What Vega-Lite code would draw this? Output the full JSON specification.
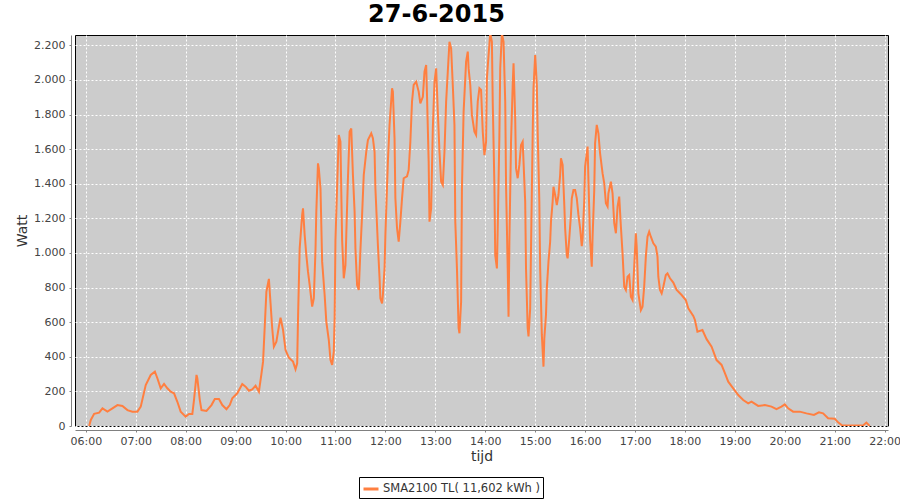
{
  "$schema": "https://vega.github.io/schema/vega-lite/v6.json",
  "width": 813,
  "height": 391,
  "autosize": "none",
  "padding": {"left": 75, "top": 35, "right": 12, "bottom": 74},
  "background": "white",
  "title": {"text": "27-6-2015", "font": "DejaVu Sans", "fontSize": 24, "fontWeight": "bold", "color": "black", "anchor": "middle", "frame": "group", "offset": 8, "dx": -45},
  "data": {
    "format": {"parse": {"t": "utc:'%H:%M'"}},
    "values": [
      {"t":"06:04","w":0},{"t":"06:06","w":35},{"t":"06:10","w":70},{"t":"06:16","w":77},{"t":"06:20","w":102},{"t":"06:26","w":83},{"t":"06:32","w":102},{"t":"06:38","w":121},{"t":"06:44","w":116},{"t":"06:50","w":92},{"t":"06:56","w":83},{"t":"07:02","w":83},{"t":"07:06","w":112},{"t":"07:12","w":237},{"t":"07:18","w":295},{"t":"07:23","w":314},{"t":"07:26","w":276},{"t":"07:30","w":218},{"t":"07:34","w":243},{"t":"07:38","w":218},{"t":"07:42","w":198},{"t":"07:46","w":189},{"t":"07:50","w":140},{"t":"07:54","w":83},{"t":"08:00","w":54},{"t":"08:04","w":69},{"t":"08:08","w":69},{"t":"08:10","w":150},{"t":"08:13","w":295},{"t":"08:14","w":276},{"t":"08:17","w":150},{"t":"08:19","w":92},{"t":"08:25","w":87},{"t":"08:31","w":121},{"t":"08:35","w":156},{"t":"08:40","w":156},{"t":"08:44","w":121},{"t":"08:49","w":97},{"t":"08:53","w":121},{"t":"08:56","w":160},{"t":"09:02","w":189},{"t":"09:08","w":243},{"t":"09:12","w":227},{"t":"09:16","w":204},{"t":"09:20","w":212},{"t":"09:24","w":233},{"t":"09:28","w":198},{"t":"09:31","w":300},{"t":"09:33","w":372},{"t":"09:35","w":574},{"t":"09:37","w":776},{"t":"09:40","w":850},{"t":"09:42","w":709},{"t":"09:44","w":565},{"t":"09:46","w":458},{"t":"09:49","w":487},{"t":"09:52","w":574},{"t":"09:54","w":626},{"t":"09:57","w":555},{"t":"10:00","w":439},{"t":"10:04","w":395},{"t":"10:09","w":372},{"t":"10:12","w":328},{"t":"10:14","w":362},{"t":"10:15","w":622},{"t":"10:17","w":1027},{"t":"10:20","w":1220},{"t":"10:21","w":1258},{"t":"10:23","w":1104},{"t":"10:25","w":988},{"t":"10:27","w":892},{"t":"10:29","w":815},{"t":"10:32","w":690},{"t":"10:34","w":738},{"t":"10:36","w":1017},{"t":"10:37","w":1239},{"t":"10:39","w":1518},{"t":"10:40","w":1489},{"t":"10:42","w":1374},{"t":"10:44","w":950},{"t":"10:47","w":757},{"t":"10:49","w":603},{"t":"10:52","w":497},{"t":"10:54","w":383},{"t":"10:56","w":353},{"t":"10:58","w":430},{"t":"10:59","w":622},{"t":"11:00","w":1075},{"t":"11:02","w":1383},{"t":"11:04","w":1682},{"t":"11:06","w":1643},{"t":"11:07","w":1354},{"t":"11:08","w":1075},{"t":"11:10","w":854},{"t":"11:12","w":930},{"t":"11:13","w":1104},{"t":"11:15","w":1432},{"t":"11:17","w":1701},{"t":"11:19","w":1720},{"t":"11:21","w":1451},{"t":"11:23","w":1239},{"t":"11:24","w":1027},{"t":"11:26","w":815},{"t":"11:28","w":786},{"t":"11:30","w":1017},{"t":"11:32","w":1220},{"t":"11:34","w":1451},{"t":"11:37","w":1585},{"t":"11:39","w":1653},{"t":"11:43","w":1692},{"t":"11:45","w":1663},{"t":"11:47","w":1585},{"t":"11:48","w":1374},{"t":"11:51","w":1046},{"t":"11:53","w":854},{"t":"11:54","w":738},{"t":"11:56","w":709},{"t":"11:57","w":757},{"t":"11:59","w":911},{"t":"12:00","w":1104},{"t":"12:03","w":1528},{"t":"12:05","w":1740},{"t":"12:08","w":1952},{"t":"12:09","w":1933},{"t":"12:11","w":1663},{"t":"12:12","w":1316},{"t":"12:14","w":1143},{"t":"12:16","w":1065},{"t":"12:18","w":1181},{"t":"12:20","w":1316},{"t":"12:22","w":1432},{"t":"12:26","w":1443},{"t":"12:28","w":1480},{"t":"12:30","w":1643},{"t":"12:32","w":1875},{"t":"12:34","w":1971},{"t":"12:37","w":1990},{"t":"12:40","w":1933},{"t":"12:42","w":1865},{"t":"12:45","w":1903},{"t":"12:47","w":2048},{"t":"12:49","w":2087},{"t":"12:50","w":1913},{"t":"12:52","w":1528},{"t":"12:53","w":1181},{"t":"12:55","w":1258},{"t":"12:57","w":1720},{"t":"12:59","w":1990},{"t":"13:01","w":2067},{"t":"13:03","w":1817},{"t":"13:05","w":1585},{"t":"13:07","w":1412},{"t":"13:09","w":1393},{"t":"13:11","w":1585},{"t":"13:13","w":1875},{"t":"13:15","w":2048},{"t":"13:17","w":2221},{"t":"13:19","w":2183},{"t":"13:21","w":1971},{"t":"13:23","w":1740},{"t":"13:24","w":1181},{"t":"13:26","w":911},{"t":"13:28","w":565},{"t":"13:29","w":536},{"t":"13:31","w":718},{"t":"13:32","w":1374},{"t":"13:34","w":1817},{"t":"13:37","w":2106},{"t":"13:39","w":2164},{"t":"13:40","w":2067},{"t":"13:42","w":1971},{"t":"13:44","w":1798},{"t":"13:47","w":1701},{"t":"13:49","w":1682},{"t":"13:51","w":1875},{"t":"13:53","w":1952},{"t":"13:55","w":1942},{"t":"13:57","w":1701},{"t":"13:59","w":1566},{"t":"14:01","w":1643},{"t":"14:02","w":2010},{"t":"14:04","w":2144},{"t":"14:06","w":2270},{"t":"14:08","w":2221},{"t":"14:09","w":1875},{"t":"14:11","w":1393},{"t":"14:12","w":988},{"t":"14:14","w":911},{"t":"14:15","w":1143},{"t":"14:17","w":1682},{"t":"14:18","w":2067},{"t":"14:20","w":2270},{"t":"14:22","w":2221},{"t":"14:24","w":1875},{"t":"14:25","w":1393},{"t":"14:27","w":911},{"t":"14:28","w":632},{"t":"14:29","w":1065},{"t":"14:31","w":1643},{"t":"14:33","w":1971},{"t":"14:34","w":2096},{"t":"14:36","w":1778},{"t":"14:37","w":1489},{"t":"14:39","w":1432},{"t":"14:41","w":1509},{"t":"14:43","w":1624},{"t":"14:45","w":1643},{"t":"14:46","w":1528},{"t":"14:48","w":1297},{"t":"14:49","w":911},{"t":"14:51","w":565},{"t":"14:52","w":518},{"t":"14:54","w":680},{"t":"14:55","w":1027},{"t":"14:57","w":1682},{"t":"14:58","w":1952},{"t":"15:00","w":2144},{"t":"15:02","w":1971},{"t":"15:03","w":1701},{"t":"15:05","w":1297},{"t":"15:06","w":911},{"t":"15:08","w":528},{"t":"15:10","w":343},{"t":"15:11","w":507},{"t":"15:13","w":642},{"t":"15:14","w":796},{"t":"15:16","w":950},{"t":"15:18","w":1065},{"t":"15:19","w":1181},{"t":"15:21","w":1297},{"t":"15:22","w":1383},{"t":"15:24","w":1335},{"t":"15:26","w":1277},{"t":"15:28","w":1335},{"t":"15:30","w":1451},{"t":"15:31","w":1547},{"t":"15:33","w":1509},{"t":"15:35","w":1277},{"t":"15:36","w":1143},{"t":"15:38","w":988},{"t":"15:39","w":969},{"t":"15:41","w":1085},{"t":"15:43","w":1220},{"t":"15:44","w":1316},{"t":"15:46","w":1364},{"t":"15:48","w":1364},{"t":"15:50","w":1316},{"t":"15:52","w":1220},{"t":"15:54","w":1143},{"t":"15:56","w":1040},{"t":"15:57","w":1085},{"t":"15:59","w":1306},{"t":"16:00","w":1499},{"t":"16:03","w":1615},{"t":"16:04","w":1422},{"t":"16:06","w":1075},{"t":"16:08","w":921},{"t":"16:09","w":1094},{"t":"16:11","w":1364},{"t":"16:12","w":1634},{"t":"16:14","w":1740},{"t":"16:16","w":1692},{"t":"16:18","w":1576},{"t":"16:21","w":1460},{"t":"16:23","w":1403},{"t":"16:25","w":1287},{"t":"16:27","w":1268},{"t":"16:28","w":1345},{"t":"16:31","w":1412},{"t":"16:33","w":1345},{"t":"16:35","w":1172},{"t":"16:37","w":1114},{"t":"16:39","w":1268},{"t":"16:41","w":1326},{"t":"16:43","w":1153},{"t":"16:45","w":998},{"t":"16:47","w":805},{"t":"16:49","w":786},{"t":"16:51","w":863},{"t":"16:53","w":873},{"t":"16:55","w":747},{"t":"16:57","w":728},{"t":"16:59","w":921},{"t":"17:01","w":1114},{"t":"17:02","w":1036},{"t":"17:04","w":767},{"t":"17:07","w":670},{"t":"17:09","w":690},{"t":"17:11","w":805},{"t":"17:13","w":979},{"t":"17:15","w":1094},{"t":"17:17","w":1123},{"t":"17:19","w":1094},{"t":"17:22","w":1056},{"t":"17:25","w":1036},{"t":"17:27","w":979},{"t":"17:28","w":863},{"t":"17:30","w":786},{"t":"17:32","w":767},{"t":"17:34","w":805},{"t":"17:37","w":873},{"t":"17:39","w":882},{"t":"17:42","w":854},{"t":"17:46","w":829},{"t":"17:50","w":786},{"t":"17:56","w":757},{"t":"18:01","w":728},{"t":"18:04","w":680},{"t":"18:10","w":636},{"t":"18:12","w":613},{"t":"18:15","w":545},{"t":"18:21","w":555},{"t":"18:26","w":502},{"t":"18:32","w":458},{"t":"18:38","w":381},{"t":"18:44","w":353},{"t":"18:48","w":305},{"t":"18:52","w":256},{"t":"18:58","w":218},{"t":"19:04","w":179},{"t":"19:10","w":150},{"t":"19:16","w":131},{"t":"19:20","w":141},{"t":"19:28","w":116},{"t":"19:36","w":121},{"t":"19:44","w":112},{"t":"19:50","w":97},{"t":"19:56","w":112},{"t":"20:00","w":125},{"t":"20:04","w":102},{"t":"20:10","w":83},{"t":"20:18","w":83},{"t":"20:26","w":73},{"t":"20:35","w":64},{"t":"20:41","w":79},{"t":"20:46","w":73},{"t":"20:52","w":45},{"t":"21:00","w":42},{"t":"21:04","w":21},{"t":"21:09","w":3},{"t":"21:34","w":3},{"t":"21:38","w":20},{"t":"21:42","w":0}
    ]
  },
  "mark": {"type": "line", "strokeWidth": 2, "clip": true},
  "encoding": {
    "x": {
      "field": "t", "type": "temporal",
      "scale": {"type": "utc", "domain": [-2208967980000, -2208909360000], "nice": false},
      "axis": {
        "title": "tijd",
        "values": [-2208967200000, -2208963600000, -2208960000000, -2208956400000, -2208952800000, -2208949200000, -2208945600000, -2208942000000, -2208938400000, -2208934800000, -2208931200000, -2208927600000, -2208924000000, -2208920400000, -2208916800000, -2208913200000, -2208909600000],
        "labelExpr": "utcFormat(datum.value, '%H:%M')",
        "offset": 4, "domainColor": "#808080", "tickColor": "#808080", "tickSize": 2,
        "labelFont": "DejaVu Sans", "labelFontSize": 11, "labelColor": "#444444", "labelPadding": 3,
        "labelFlush": false, "labelOverlap": false,
        "titleFont": "DejaVu Sans", "titleFontSize": 14, "titleFontWeight": "normal", "titleColor": "#333333", "titlePadding": 3,
        "grid": true, "gridColor": "white", "gridDash": [2, 2], "gridWidth": 1, "gridOpacity": 1
      }
    },
    "y": {
      "field": "w", "type": "quantitative",
      "scale": {"domain": [0, 2260], "nice": false},
      "axis": {
        "title": "Watt", "values": [0, 200, 400, 600, 800, 1000, 1200, 1400, 1600, 1800, 2000, 2200],
        "labelExpr": "replace(format(datum.value, ','), ',', '.')",
        "offset": 4, "domainColor": "#808080", "tickColor": "#808080", "tickSize": 2,
        "labelFont": "DejaVu Sans", "labelFontSize": 11, "labelColor": "#444444", "labelPadding": 4,
        "labelFlush": false, "labelOverlap": false,
        "titleFont": "DejaVu Sans", "titleFontSize": 14, "titleFontWeight": "normal", "titleColor": "#333333", "titlePadding": 4,
        "grid": true, "gridColor": "white", "gridDash": [2, 2], "gridWidth": 1, "gridOpacity": 1
      }
    },
    "color": {
      "datum": "SMA2100 TL( 11,602 kWh )", "type": "nominal",
      "scale": {"range": ["#ff7f40"]},
      "legend": {
        "title": null, "orient": "none", "legendX": 284, "legendY": 442,
        "strokeColor": "black", "padding": 3, "fillColor": "white",
        "symbolType": "stroke", "symbolSize": 225, "symbolStrokeWidth": 3,
        "labelFont": "DejaVu Sans", "labelFontSize": 11.5, "labelColor": "#333333", "labelOffset": 3
      }
    }
  },
  "config": {
    "view": {"fill": "#cccccc", "stroke": "black", "strokeWidth": 1}
  }
}
